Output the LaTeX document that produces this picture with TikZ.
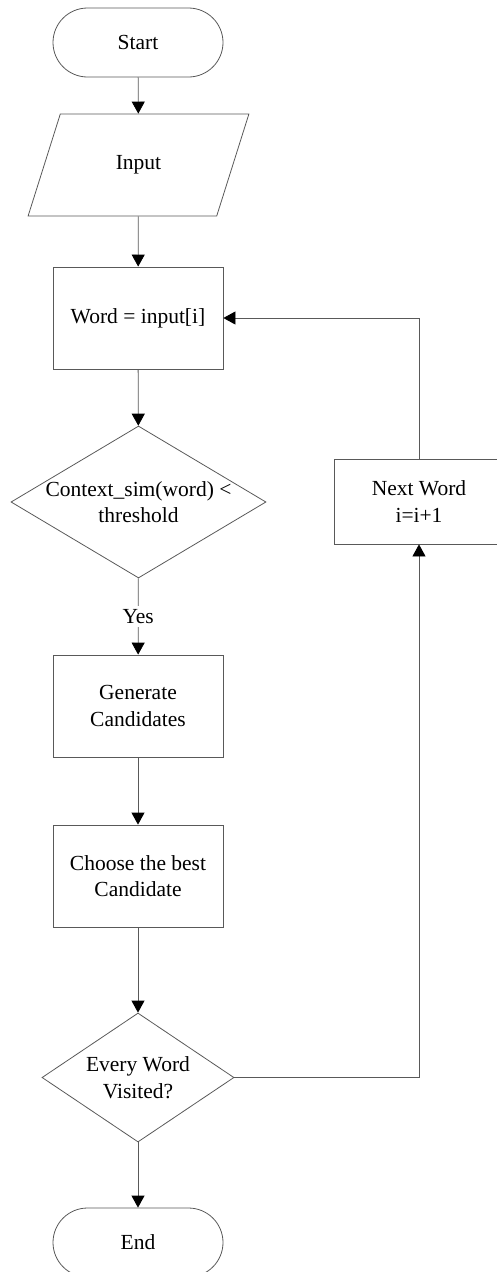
\documentclass[tikz,border=0pt]{standalone}
\usepackage{fontspec}
\setmainfont{Liberation Serif}
\usetikzlibrary{arrows.meta,shapes.geometric,shapes.misc}
\begin{document}
\begin{tikzpicture}[x=1pt,y=-1pt,
  every node/.style={font=\fontsize{21.5}{26.5}\selectfont, align=center},
  stroke/.style={draw=black!65, line width=0.8pt},
  terminal/.style={stroke, rounded rectangle, minimum width=170, minimum height=69, inner sep=0pt},
  procbox/.style={stroke, rectangle, minimum width=170, minimum height=102, inner sep=0pt},
  iobox/.style={stroke, trapezium, trapezium left angle=63.4, trapezium right angle=116.6,
    trapezium stretches=true, minimum width=221, minimum height=102, inner sep=0pt},
  decision/.style={stroke, diamond, inner sep=0pt},
  flow/.style={draw=black!65, line width=0.8pt, -{Triangle[width=13pt,length=12pt,color=black]}}]
\useasboundingbox (0,0) rectangle (497,1272);
\clip (0,0) rectangle (497,1272);

% main column
\node[terminal] (start) at (138,42.5) {Start};
\node[iobox] (input) at (138.5,165) {Input};
\node[procbox] (word) at (138,318) {Word = input[i]};
\node[decision, minimum width=255, minimum height=152] (sim) at (138.5,502) {};
\node at (sim.center) {Context\_sim(word) <\\threshold};
\node[procbox] (gen) at (138,706) {Generate\\Candidates};
\node[procbox] (choose) at (138,876) {Choose the best\\Candidate};
\node[decision, minimum width=192, minimum height=129] (visited) at (138,1077.5) {};
\node at (visited.center) {Every Word\\Visited?};
\node[terminal] (end) at (138,1242.5) {End};

% loop box
\node[procbox, minimum height=85] (next) at (419,501.5) {Next Word\\i=i+1};
\coordinate (loopin) at (419,1077.5);
\coordinate (loopout) at (419,318);

% connectors
\draw[flow] (start) -- (input);
\draw[flow] (input) -- (word);
\draw[flow] (word) -- (sim);
\draw[flow] (sim) -- node[fill=white, inner sep=3pt] {Yes} (gen);
\draw[flow] (gen) -- (choose);
\draw[flow] (choose) -- (visited);
\draw[flow] (visited) -- (end);
\draw[flow] (visited.east) -- (loopin) -- (next.south);
\draw[flow] (next.north) -- (loopout) -- (word.east);
\end{tikzpicture}
\end{document}
